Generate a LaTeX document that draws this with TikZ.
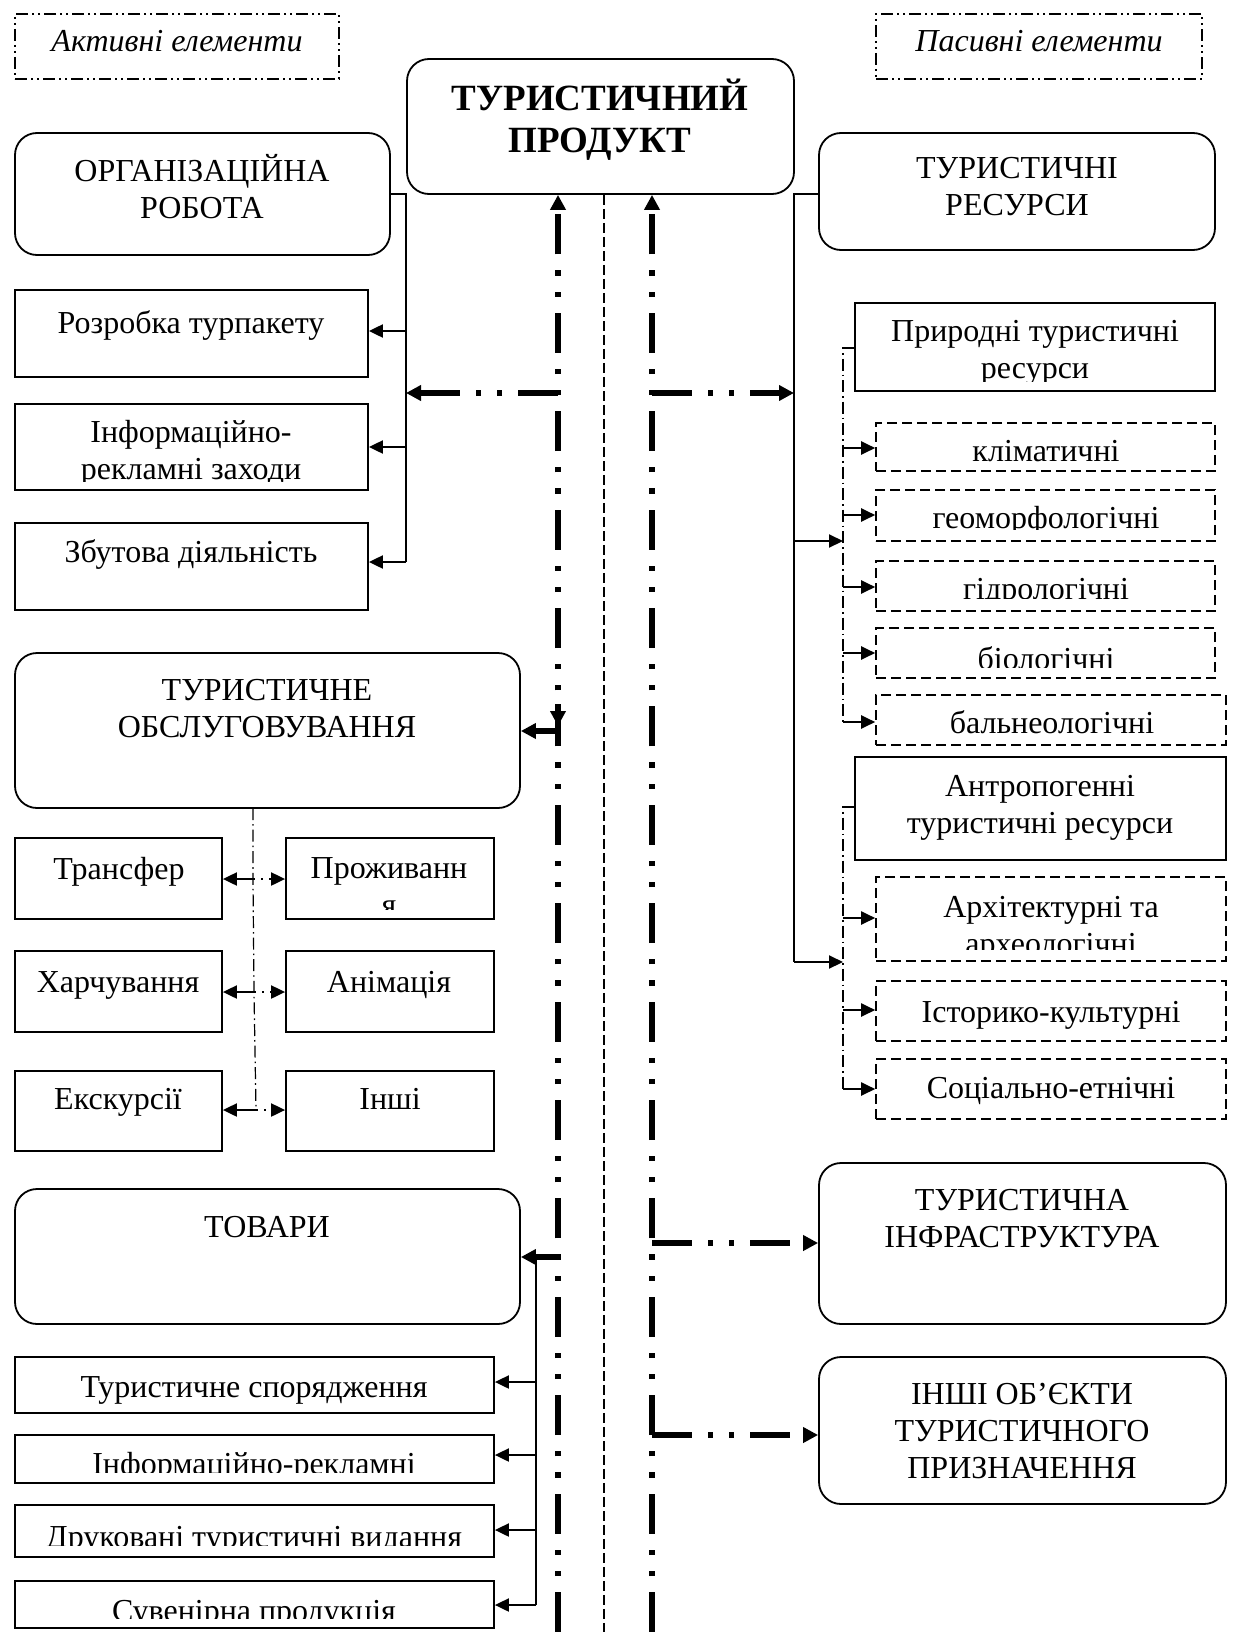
\documentclass[tikz,border=0pt]{standalone}
\usepackage{fontspec}
\setmainfont{Liberation Serif}
\usetikzlibrary{fit,arrows.meta}
\begin{document}
\begin{tikzpicture}[x=0.5pt,y=-0.5pt,
  box/.style={draw, line width=0.9pt, inner sep=0pt},
  rbox/.style={box, rounded corners=11pt},
  dbox/.style={draw, line width=0.8pt, dash pattern=on 5pt off 2.5pt, inner sep=0pt},
  lbox/.style={draw, line width=0.7pt, dash pattern=on 6pt off 2pt on 1pt off 2pt on 1pt off 2pt, inner sep=0pt},
  txt/.style={inner sep=0pt, align=center, font=\fontsize{16}{18.5}\selectfont, anchor=base},
  ttl/.style={txt, font=\fontsize{18.5}{21}\selectfont\bfseries},
  itl/.style={txt, font=\fontsize{16}{18.5}\selectfont\itshape},
  con/.style={line width=1pt, -{Triangle[length=7pt,width=6.5pt]}},
  conn/.style={line width=1pt},
  big/.style={line width=2.6pt, dash pattern=on 20pt off 8pt on 2.6pt off 8pt on 2.6pt off 8pt, -{Triangle[length=7.5pt,width=7.5pt]}},
  bigs/.style={line width=2.6pt, -{Triangle[length=7.5pt,width=7.5pt]}},
  midd/.style={line width=0.6pt, dash pattern=on 5pt off 2pt},
  thdd/.style={line width=0.6pt, dash pattern=on 6pt off 2pt on 0.8pt off 2pt},
  dotar/.style={line width=1pt, dash pattern=on 1pt off 3pt, -{Triangle[length=7pt,width=6.5pt]}},
]
\useasboundingbox (0,0) rectangle (1232,1632);

% ---------- top ----------
\node[lbox, fit={(15,14) (339,79)}] (act) {};
\node[itl] (actt) at (177,52) {Активні елементи};
\node[lbox, fit={(876,14) (1202,79)}] (pas) {};
\node[itl] (past) at (1039,52) {Пасивні елементи};
\node[rbox, fit={(407,59) (794,194)}] (prod) {};
\node[ttl] (prodt) at (600,153) {ТУРИСТИЧНИЙ\\ПРОДУКТ};

% ---------- left: organisation ----------
\node[rbox, fit={(15,133) (390,255)}] (org) {};
\node[txt] (orgt) at (202,218) {ОРГАНІЗАЦІЙНА\\РОБОТА};
\node[box, fit={(15,290) (368,377)}] (razr) {};
\node[txt] (razrt) at (191,333) {Розробка турпакету};
\node[box, fit={(15,404) (368,490)}] (info) {};
\begin{scope}
\clip (15,404) rectangle (368,481);
\node[txt] (infot) at (191,479) {Інформаційно-\\рекламні заходи};
\end{scope}
\node[box, fit={(15,523) (368,610)}] (zbut) {};
\node[txt] (zbutt) at (191,562) {Збутова діяльність};

% ---------- left: service ----------
\node[rbox, fit={(15,653) (520,808)}] (serv) {};
\node[txt] (servt) at (267,737) {ТУРИСТИЧНЕ\\ОБСЛУГОВУВАННЯ};
\node[box, fit={(15,838) (222,919)}] (trans) {};
\node[txt] (transt) at (119,879) {Трансфер};
\node[box, fit={(286,838) (494,919)}] (prozh) {};
\begin{scope}
\clip (286,838) rectangle (494,909);
\node[txt] (prozht) at (389,915) {Проживанн\\я};
\end{scope}
\node[box, fit={(15,951) (222,1032)}] (harch) {};
\node[txt] (harcht) at (118,992) {Харчування};
\node[box, fit={(286,951) (494,1032)}] (anim) {};
\node[txt] (animt) at (389,992) {Анімація};
\node[box, fit={(15,1071) (222,1151)}] (eksk) {};
\node[txt] (ekskt) at (118,1109) {Екскурсії};
\node[box, fit={(286,1071) (494,1151)}] (insh) {};
\node[txt] (insht) at (390,1109) {Інші};

% ---------- left: goods ----------
\node[rbox, fit={(15,1189) (520,1324)}] (tov) {};
\node[txt] (tovt) at (267,1237) {ТОВАРИ};
\node[box, fit={(15,1357) (494,1413)}] (spor) {};
\node[txt] (sport) at (254,1397) {Туристичне спорядження};
\node[box, fit={(15,1435) (494,1483)}] (irek) {};
\begin{scope}
\clip (15,1435) rectangle (494,1472);
\node[txt] (irekt) at (254,1474) {Інформаційно-рекламні};
\end{scope}
\node[box, fit={(15,1505) (494,1557)}] (druk) {};
\begin{scope}
\clip (15,1505) rectangle (494,1545);
\node[txt] (drukt) at (254,1547) {Друковані туристичні видання};
\end{scope}
\node[box, fit={(15,1581) (494,1628)}] (suv) {};
\begin{scope}
\clip (15,1581) rectangle (494,1618);
\node[txt] (suvt) at (254,1621) {Сувенірна продукція};
\end{scope}

% ---------- right ----------
\node[rbox, fit={(819,133) (1215,250)}] (res) {};
\node[txt] (rest) at (1017,215) {ТУРИСТИЧНІ\\РЕСУРСИ};
\node[box, fit={(855,303) (1215,391)}] (prir) {};
\begin{scope}
\clip (855,303) rectangle (1215,381);
\node[txt] (prirt) at (1035,378) {Природні туристичні\\ресурси};
\end{scope}
\node[dbox, fit={(876,423) (1215,471)}] (klim) {};
\begin{scope}
\clip (876,423) rectangle (1215,462);
\node[txt] (klimt) at (1046,461) {кліматичні};
\end{scope}
\node[dbox, fit={(876,490) (1215,541)}] (geo) {};
\begin{scope}
\clip (876,490) rectangle (1215,529);
\node[txt] (geot) at (1046,528) {геоморфологічні};
\end{scope}
\node[dbox, fit={(876,561) (1215,611)}] (gidr) {};
\begin{scope}
\clip (876,561) rectangle (1215,598);
\node[txt] (gidrt) at (1046,599) {гідрологічні};
\end{scope}
\node[dbox, fit={(876,628) (1215,678)}] (bio) {};
\begin{scope}
\clip (876,628) rectangle (1215,667);
\node[txt] (biot) at (1046,669) {біологічні};
\end{scope}
\node[dbox, fit={(876,695) (1226,745)}] (baln) {};
\begin{scope}
\clip (876,695) rectangle (1226,736);
\node[txt] (balnt) at (1052,733) {бальнеологічні};
\end{scope}
\node[box, fit={(855,757) (1226,860)}] (antr) {};
\node[txt] (antrt) at (1040,833) {Антропогенні\\туристичні ресурси};
\node[dbox, fit={(876,877) (1226,961)}] (arch) {};
\begin{scope}
\clip (876,877) rectangle (1226,949);
\node[txt] (archt) at (1051,954) {Архітектурні та\\археологічні};
\end{scope}
\node[dbox, fit={(876,981) (1226,1041)}] (ist) {};
\node[txt] (istt) at (1051,1022) {Історико-культурні};
\node[dbox, fit={(876,1059) (1226,1119)}] (soc) {};
\node[txt] (soct) at (1051,1098) {Соціально-етнічні};
\node[rbox, fit={(819,1163) (1226,1324)}] (infra) {};
\node[txt] (infrat) at (1022,1247) {ТУРИСТИЧНА\\ІНФРАСТРУКТУРА};
\node[rbox, fit={(819,1357) (1226,1504)}] (oth) {};
\node[txt] (otht) at (1022,1478) {ІНШІ ОБ’ЄКТИ\\ТУРИСТИЧНОГО\\ПРИЗНАЧЕННЯ};

% ---------- coordinates ----------
\coordinate (oTop) at (406,194);
\coordinate (o1) at (406,331);
\coordinate (o2) at (406,447);
\coordinate (o3) at (406,562);
\coordinate (Lbot) at (558,1632);
\coordinate (Rbot) at (652,1632);
\coordinate (Mbot) at (604,1632);
\coordinate (Lb1) at (558,393);
\coordinate (Rb1) at (652,393);
\coordinate (Ls1) at (558,704);
\coordinate (Ls2) at (558,726);
\coordinate (Ls3) at (558,731);
\coordinate (Lt) at (558,1257);
\coordinate (t0) at (536,1257);
\coordinate (t1) at (536,1382);
\coordinate (t2) at (536,1455);
\coordinate (t3) at (536,1530);
\coordinate (t4) at (536,1605);
\coordinate (sv0) at (253,808);
\coordinate (sv1) at (253,879);
\coordinate (sv2) at (254,992);
\coordinate (sv3) at (256,1110);
\coordinate (Rb2) at (652,1243);
\coordinate (Rb3) at (652,1435);
\coordinate (rv0) at (794,194);
\coordinate (rv1) at (794,541);
\coordinate (rv2) at (794,962);
\coordinate (n0) at (843,348);
\coordinate (n1) at (843,448);
\coordinate (n2) at (843,515);
\coordinate (n3) at (843,587);
\coordinate (n4) at (843,653);
\coordinate (n5) at (843,722);
\coordinate (nj) at (843,541);
\coordinate (a0) at (843,807);
\coordinate (a1) at (843,918);
\coordinate (a2) at (843,1010);
\coordinate (a3) at (843,1089);
\coordinate (aj) at (843,962);

% ---------- organisation connectors ----------
\draw[conn] (org.east |- oTop) -- (oTop) -- (o3);
\draw[con] (o1) -- (razr.east |- o1);
\draw[con] (o2) -- (info.east |- o2);
\draw[con] (o3) -- (zbut.east |- o3);

% ---------- central lines ----------
\draw[midd] (prod.south -| Mbot) -- (Mbot);
\draw[big] (Lbot) -- (prod.south -| Lbot);
\draw[big] (Rbot) -- (prod.south -| Rbot);
\draw[big] (Lb1) -- (Lb1 -| oTop);
\draw[big] (Rb1) -- (Rb1 -| rv0);
\draw[bigs] (Ls1) -- (Ls2);
\draw[bigs] (Ls3) -- (serv.east |- Ls3);
\draw[bigs] (Lt) -- (tov.east |- Lt);
\draw[big] (Rb2) -- (infra.west |- Rb2);
\draw[big] (Rb3) -- (oth.west |- Rb3);

% ---------- service connectors ----------
\draw[thdd] (sv0) -- (sv1) -- (sv2) -- (sv3);
\draw[con] (sv1) -- (trans.east |- sv1);
\draw[con] (sv2) -- (harch.east |- sv2);
\draw[con] (sv3) -- (eksk.east |- sv3);
\draw[dotar] (sv1) -- (prozh.west |- sv1);
\draw[dotar] (sv2) -- (anim.west |- sv2);
\draw[dotar] (sv3) -- (insh.west |- sv3);

% ---------- goods connectors ----------
\draw[conn] (t0) -- (t4);
\draw[con] (t1) -- (spor.east |- t1);
\draw[con] (t2) -- (irek.east |- t2);
\draw[con] (t3) -- (druk.east |- t3);
\draw[con] (t4) -- (suv.east |- t4);

% ---------- resources connectors ----------
\draw[conn] (res.west |- rv0) -- (rv0) -- (rv2);
\draw[con] (rv1) -- (nj);
\draw[con] (rv2) -- (aj);
\draw[thdd] (prir.west |- n0) -- (n0) -- (n5);
\draw[con] (n1) -- (klim.west |- n1);
\draw[con] (n2) -- (geo.west |- n2);
\draw[con] (n3) -- (gidr.west |- n3);
\draw[con] (n4) -- (bio.west |- n4);
\draw[con] (n5) -- (baln.west |- n5);
\draw[thdd] (antr.west |- a0) -- (a0) -- (a3);
\draw[con] (a1) -- (arch.west |- a1);
\draw[con] (a2) -- (ist.west |- a2);
\draw[con] (a3) -- (soc.west |- a3);
\end{tikzpicture}
\end{document}
